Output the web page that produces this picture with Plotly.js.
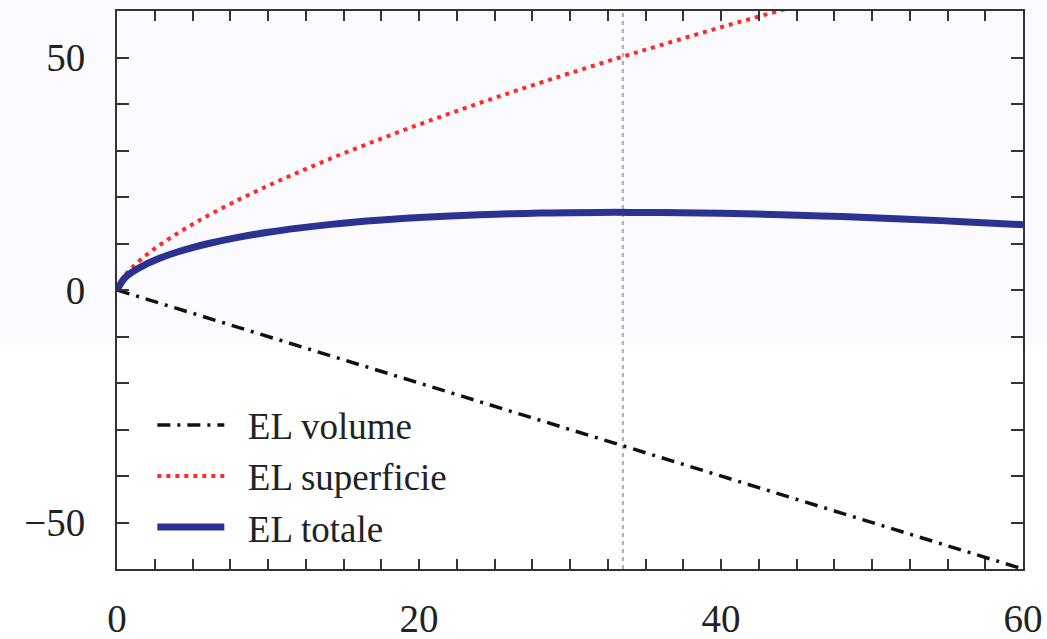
<!DOCTYPE html>
<html>
<head>
<meta charset="utf-8">
<script src="https://cdn.plot.ly/plotly-3.0.1.min.js"></script>
<style>html,body{margin:0;padding:0;background:#fff;}#chart{width:1047px;height:639px;}</style>
</head>
<body>
<div id="chart"></div>
<script>
// Data
const xValues = [0, 0.5, 1, 2, 3, 4, 5, 6, 8, 10, 12, 14, 16, 18, 20, 22, 24, 26, 28, 30, 33, 36, 40, 44, 48, 52, 56, 60];
const elVolume = [0, -0.5, -1, -2, -3, -4, -5, -6, -8, -10, -12, -14, -16, -18, -20, -22, -24, -26, -28, -30, -33, -36, -40, -44, -48, -52, -56, -60];
const elSuperficie = [0, 3.04, 4.83, 7.67, 10.05, 12.17, 14.12, 15.95, 19.32, 22.42, 25.31, 28.06, 30.67, 33.17, 35.59, 37.92, 40.19, 42.39, 44.54, 46.63, 49.70, 52.65, 56.51, 60.18, 63.8, 67.28, 70.7, 74.04];
const elTotale = [0, 2.54, 3.83, 5.67, 7.05, 8.17, 9.12, 9.95, 11.32, 12.42, 13.31, 14.06, 14.67, 15.17, 15.59, 15.92, 16.19, 16.39, 16.54, 16.63, 16.70, 16.65, 16.51, 16.18, 15.8, 15.28, 14.7, 14.04];
const seriesNames = ["EL volume", "EL superficie", "EL totale"];
const xMaxTotale = 33.5;
const xTickVals = [0, 2.5, 5, 7.5, 10, 12.5, 15, 17.5, 20, 22.5, 25, 27.5, 30, 32.5, 35, 37.5, 40, 42.5, 45, 47.5, 50, 52.5, 55, 57.5, 60];
const xTickText = ["0", "", "", "", "", "", "", "", "20", "", "", "", "", "", "", "", "40", "", "", "", "", "", "", "", "60"];
const yTickVals = [-60, -50, -40, -30, -20, -10, 0, 10, 20, 30, 40, 50, 60];
const yTickText = ["", "\u221250", "", "", "", "", "0", "", "", "", "", "50", ""];

const fontFam = "Liberation Serif, Times New Roman, serif";
const pad = "\u2002";

const traces = [
  {x: xValues, y: elVolume, name: pad + seriesNames[0], mode: "lines",
   line: {color: "#111111", width: 3.5, dash: "13px,7px,3px,7px"}},
  {x: xValues, y: elSuperficie, name: pad + seriesNames[1], mode: "lines", line: {color: "#ff2a2a", width: 4, dash: "4px,5px", shape: "spline"}},
  {x: xValues, y: elTotale, name: pad + seriesNames[2], mode: "lines", line: {color: "#2b3391", width: 7, shape: "spline"}}
];

const axisCommon = {
  showgrid: false, zeroline: false, showline: true, linecolor: "#333333", linewidth: 2,
  ticks: "inside", tickcolor: "#333333", tickwidth: 2, mirror: "ticks", tickmode: "array",
  tickfont: {family: fontFam, size: 39, color: "#222222"}
};

const layout = {
  width: 1047, height: 639,
  margin: {l: 117, r: 24, t: 11, b: 70},
  paper_bgcolor: "#ffffff", plot_bgcolor: "rgba(0,0,0,0)",
  showlegend: true,
  legend: {x: 0.039, y: 0.313, xanchor: "left", yanchor: "top", bgcolor: "rgba(0,0,0,0)",
    font: {family: fontFam, size: 37, color: "#222222"}, itemwidth: 67, tracegroupgap: 0},
  xaxis: Object.assign({}, axisCommon, {range: [0, 60], tickvals: xTickVals, ticktext: xTickText, ticklen: 10, ticklabelstandoff: 14}),
  yaxis: Object.assign({}, axisCommon, {range: [-60, 60], tickvals: yTickVals, ticktext: yTickText, ticklen: 12, ticklabelstandoff: 22}),
  shapes: [
    {type: "rect", xref: "paper", yref: "paper", x0: -0.2, x1: 1.1, y0: 0.4018, y1: 1.1, fillcolor: "#fafaff", line: {width: 0}, layer: "below"},
    {type: "line", xref: "x", yref: "paper", x0: xMaxTotale, x1: xMaxTotale, y0: 0, y1: 1, line: {color: "#aaaaaa", width: 2, dash: "4px,4px"}, layer: "below"}
  ]
};

Plotly.newPlot("chart", traces, layout, {displayModeBar: false, staticPlot: true});
</script>
</body>
</html>
